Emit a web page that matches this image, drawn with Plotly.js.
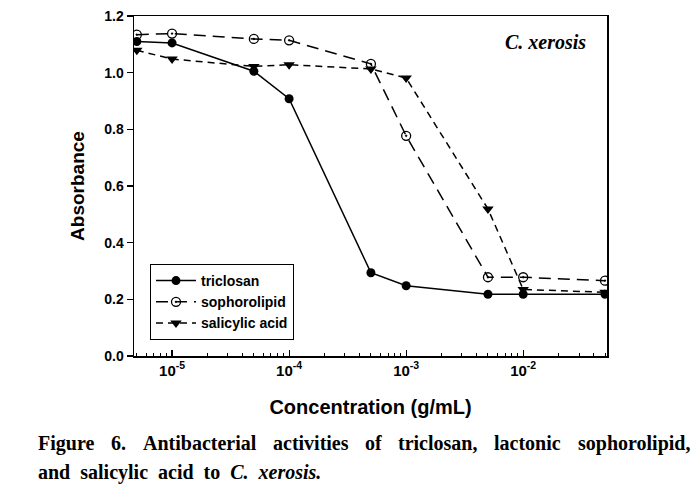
<!DOCTYPE html>
<html><head><meta charset="utf-8">
<script src="https://cdn.plot.ly/plotly-3.0.1.min.js"></script>
<style>body{margin:0;background:#fff}#chart{width:697px;height:492px}</style>
</head><body><div id="chart"></div>
<script>
const concentrations = [5e-6, 1e-5, 5e-5, 1e-4, 5e-4, 1e-3, 5e-3, 1e-2, 5e-2];
const triclosan = [1.11, 1.105, 1.005, 0.908, 0.294, 0.248, 0.218, 0.218, 0.218];
const sophorolipid = [1.134, 1.138, 1.119, 1.114, 1.031, 0.777, 0.278, 0.278, 0.266];
const salicylicAcid = [1.079, 1.048, 1.022, 1.028, 1.013, 0.981, 0.519, 0.235, 0.225];
const seriesNames = ['triclosan', 'sophorolipid', 'salicylic acid'];
const xTickVals = [1e-5, 1e-4, 1e-3, 1e-2];
const xTickText = ['10<sup>-5</sup>', '10<sup>-4</sup>', '10<sup>-3</sup>', '10<sup>-2</sup>'];
const yTickVals = [0, 0.2, 0.4, 0.6, 0.8, 1.0, 1.2];
const captionLine1 = 'Figure 6. Antibacterial activities of triclosan, lactonic sophorolipid,';
const captionLine2 = 'and salicylic acid to <i>C. xerosis.</i>';

const minorVals = [];
for (let e = -6; e <= -2; e++) for (let m = 2; m <= 9; m++) minorVals.push(m * Math.pow(10, e));

const traces = [
  {x: concentrations, y: triclosan, name: seriesNames[0], mode: 'lines+markers',
   line: {color: '#000', width: 1.5, dash: 'solid'},
   marker: {symbol: 'circle', size: 9, color: '#000'}},
  {x: concentrations, y: sophorolipid, name: seriesNames[1], mode: 'lines+markers',
   line: {color: '#000', width: 1.5, dash: '12px,7px'},
   marker: {symbol: 'circle-open-dot', size: 9, color: '#000', line: {width: 1.3, color: '#000'}}},
  {x: concentrations, y: salicylicAcid, name: seriesNames[2], mode: 'lines+markers',
   line: {color: '#000', width: 1.5, dash: '7px,5px'},
   marker: {symbol: 'triangle-down', size: 10, color: '#000'}}
];

const L = 134, T = 16, W = 473, H = 340;
function px2x(p){ return (p - L) / W; }
function py2y(p){ return (T + H - p) / H; }
const annotations = [
  {text: '<b><i>C. xerosis</i></b>', xref: 'paper', yref: 'paper', x: px2x(588), y: py2y(42),
   xanchor: 'right', yanchor: 'middle', showarrow: false,
   font: {family: 'Liberation Serif, Times New Roman, serif', size: 20, color: '#000'}}
];
const capSize = 20;
const cv = document.createElement('canvas').getContext('2d');
cv.font = 'bold ' + capSize + 'px "Liberation Serif"';
const words = captionLine1.split(' ');
const widths = words.map(w => cv.measureText(w).width);
const total = widths.reduce((a, b) => a + b, 0);
const x0 = 38, x1 = 690;
const gap = (x1 - x0 - total) / (words.length - 1);
let cx = x0;
words.forEach((w, i) => {
  annotations.push({text: '<b>' + w + '</b>', xref: 'paper', yref: 'paper', x: px2x(cx), y: py2y(443),
    xanchor: 'left', yanchor: 'middle', showarrow: false, xshift: -2,
    font: {family: 'Liberation Serif, serif', size: capSize, color: '#000'}});
  cx += widths[i] + gap;
});
annotations.push({text: '<b>' + captionLine2.split(' ').join('&nbsp;&nbsp;') + '</b>', xref: 'paper', yref: 'paper',
  x: px2x(38), y: py2y(472), xanchor: 'left', yanchor: 'middle', showarrow: false, xshift: -2,
  font: {family: 'Liberation Serif, serif', size: capSize, color: '#000'}});

const layout = {
  width: 697, height: 492,
  margin: {l: L, r: 697 - L - W, t: T, b: 492 - T - H},
  paper_bgcolor: '#fff', plot_bgcolor: '#fff',
  showlegend: true,
  legend: {x: px2x(150), y: py2y(264), xanchor: 'left', yanchor: 'top',
    bordercolor: '#000', borderwidth: 1, bgcolor: '#fff',
    font: {family: 'Arial, Liberation Sans, sans-serif', size: 14, color: '#000', weight: 'bold'},
    tracegroupgap: 0, itemwidth: 40},
  xaxis: {type: 'log', range: [Math.log10(4.73e-6), Math.log10(5.2e-2)],
    tickmode: 'array', tickvals: xTickVals, ticktext: xTickText,
    ticks: 'inside', ticklen: 6, tickwidth: 1.2, tickcolor: '#000',
    minor: {tickmode: 'array', tickvals: minorVals, ticks: 'inside', ticklen: 3.5, tickwidth: 1, tickcolor: '#000', showgrid: false},
    showline: true, linecolor: '#000', linewidth: 1.5, mirror: true,
    showgrid: false, zeroline: false,
    tickfont: {family: 'Arial, Liberation Sans, sans-serif', size: 15, color: '#000', weight: 'bold'},
    title: {text: '<b>Concentration (g/mL)</b>', standoff: 22,
      font: {family: 'Arial, Liberation Sans, sans-serif', size: 20, color: '#000'}}},
  yaxis: {range: [0, 1.2], tickmode: 'array', tickvals: yTickVals, tickformat: '.1f',
    ticks: 'outside', ticklen: 6, tickwidth: 1.2, tickcolor: '#000',
    showline: true, linecolor: '#000', linewidth: 1.5, mirror: true,
    showgrid: false, zeroline: false,
    tickfont: {family: 'Arial, Liberation Sans, sans-serif', size: 14, color: '#000', weight: 'bold'},
    title: {text: '<b>Absorbance</b>', standoff: 14,
      font: {family: 'Arial, Liberation Sans, sans-serif', size: 19, color: '#000'}}},
  annotations: annotations
};
Plotly.newPlot('chart', traces, layout, {displayModeBar: false, staticPlot: true});
</script></body></html>
